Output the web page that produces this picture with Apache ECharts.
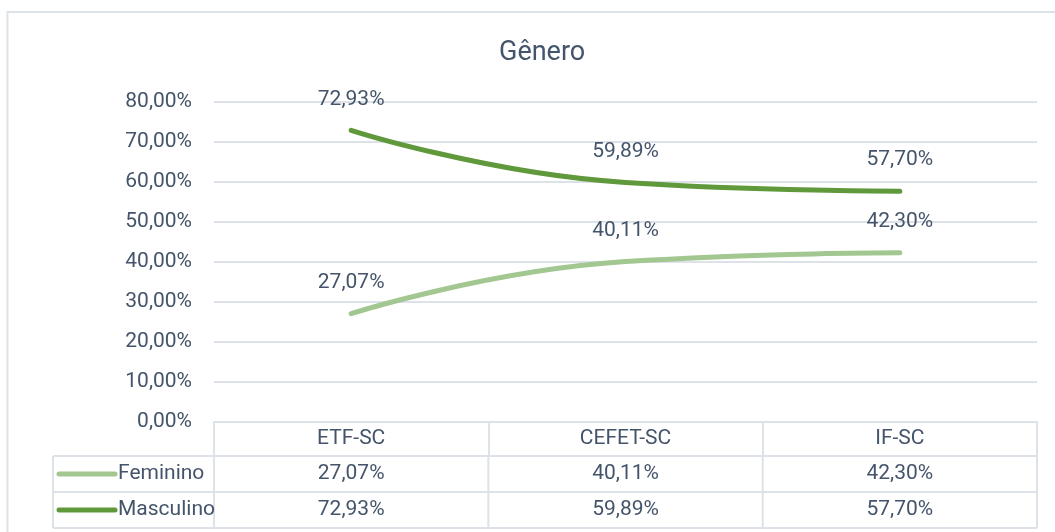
<!DOCTYPE html>
<html>
<head>
<meta charset="utf-8">
<script src="https://cdn.jsdelivr.net/npm/echarts@6/dist/echarts.min.js"></script>
<style>
html,body{margin:0;padding:0;background:#fff;}
#chart{width:1055px;height:532px;}
</style>
</head>
<body>
<div id="chart"></div>
<script>
const titleText = 'Gênero';
const categories = ['ETF-SC', 'CEFET-SC', 'IF-SC'];
const seriesNames = ['Feminino', 'Masculino'];
const feminino = [27.07, 40.11, 42.30];
const masculino = [72.93, 59.89, 57.70];
const yMin = 0, yMax = 80, yStep = 10;

const FONT = "Roboto, 'Liberation Sans', Arial, sans-serif";
const FS = 21;
const TXT = '#44546a';
const LINE = '#dde2e8';
const colors = ['#a2c790', '#60993c'];
const fmt = v => v.toFixed(2).replace('.', ',') + '%';

const chart = echarts.init(document.getElementById('chart'), null, {renderer: 'canvas'});

const GRID = {left: 214, right: 18, top: 102, height: 320};

const option = {
  backgroundColor: '#ffffff',
  animation: false,
  title: {
    text: titleText,
    left: 494, top: 35,
    textStyle: {fontFamily: FONT, fontSize: 27, fontWeight: 'normal', color: TXT}
  },
  grid: GRID,
  xAxis: {
    type: 'category',
    data: categories,
    boundaryGap: true,
    axisLine: {show: true, lineStyle: {color: LINE, width: 2}},
    axisTick: {show: true, length: 34, interval: 0, lineStyle: {color: LINE, width: 2}},
    axisLabel: {fontFamily: FONT, fontSize: FS, color: TXT, margin: 6, interval: 0},
    splitLine: {show: false}
  },
  yAxis: {
    type: 'value',
    min: yMin, max: yMax, interval: yStep,
    axisLine: {show: false},
    axisTick: {show: false},
    axisLabel: {fontFamily: FONT, fontSize: FS, color: TXT, margin: 22, formatter: v => fmt(v)},
    splitLine: {show: true, lineStyle: {color: LINE, width: 2}}
  },
  series: [feminino, masculino].map((arr, k) => ({
    name: seriesNames[k], type: 'line', data: arr, smooth: 0.5,
    symbol: 'circle', symbolSize: 1, showSymbol: true,
    lineStyle: {color: colors[k], width: 5, cap: 'round'}, itemStyle: {color: colors[k]},
    label: {show: true, position: 'top', distance: 20, fontFamily: FONT, fontSize: FS, color: TXT,
            formatter: p => fmt(p.value)}
  }))
};
chart.setOption(option);

// Data table below the axis, built from the same arrays and positioned by the x axis scale
const xs = categories.map(c => chart.convertToPixel({xAxisIndex: 0}, c));
const band = xs.length > 1 ? xs[1] - xs[0] : 0;
const edges = [xs[0] - band / 2].concat(xs.map(x => x + band / 2));
const axisY = chart.convertToPixel({yAxisIndex: 0}, yMin);
const headerH = 34, rowH = 36, legendLeft = 53;
const rowsTop = axisY + headerH;
const rowsData = [feminino, masculino];
const g = [];
const ls = {stroke: LINE, lineWidth: 2};

g.push({type: 'rect', shape: {x: 7.5, y: 12, width: 1100, height: 600}, style: {fill: null, stroke: LINE, lineWidth: 2}, silent: true, z: 0});

for (let r = 0; r <= rowsData.length; r++) {
  const y = rowsTop + r * rowH;
  g.push({type: 'line', shape: {x1: legendLeft, y1: y, x2: edges[edges.length - 1], y2: y}, style: ls, silent: true});
}
const bottom = rowsTop + rowsData.length * rowH;
g.push({type: 'line', shape: {x1: legendLeft, y1: rowsTop, x2: legendLeft, y2: bottom}, style: ls, silent: true});
edges.forEach(x => g.push({type: 'line', shape: {x1: x, y1: rowsTop, x2: x, y2: bottom}, style: ls, silent: true}));

rowsData.forEach((arr, r) => {
  const cy = rowsTop + r * rowH + rowH / 2;
  g.push({type: 'line', shape: {x1: legendLeft + 6, y1: cy, x2: legendLeft + 62, y2: cy},
          style: {stroke: colors[r], lineWidth: 5, lineCap: 'round'}, silent: true});
  g.push({type: 'text', x: legendLeft + 65, y: cy,
          style: {text: seriesNames[r], fontFamily: FONT, fontSize: FS, fill: TXT, verticalAlign: 'middle', align: 'left'}, silent: true});
  arr.forEach((v, i) => {
    g.push({type: 'text', x: xs[i], y: cy,
            style: {text: fmt(v), fontFamily: FONT, fontSize: FS, fill: TXT, verticalAlign: 'middle', align: 'center'}, silent: true});
  });
});
chart.setOption({graphic: {elements: g}});
</script>
</body>
</html>
